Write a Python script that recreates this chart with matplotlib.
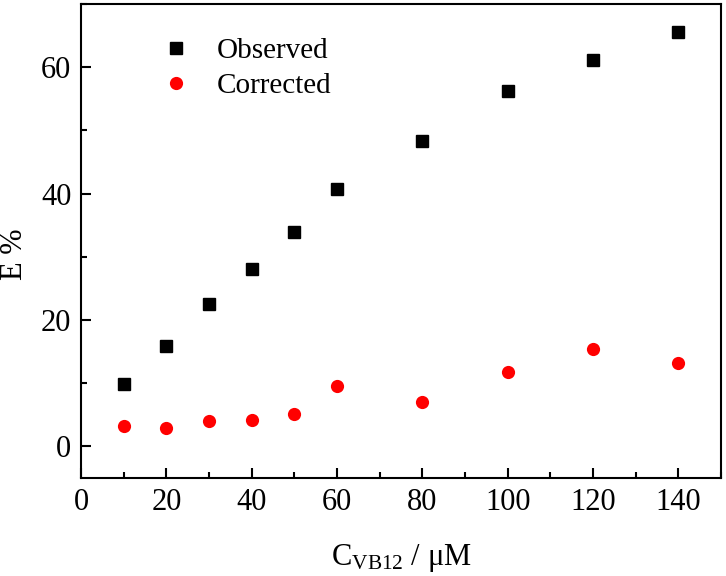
import numpy as np
import matplotlib
matplotlib.use("Agg")
import matplotlib.pyplot as plt
from matplotlib.ticker import MultipleLocator

# concentration of VB12 (uM)
conc = [10, 20, 30, 40, 50, 60, 80, 100, 120, 140]
# E % values
observed = [9.8, 15.9, 22.6, 28.1, 33.9, 40.7, 48.4, 56.2, 61.2, 65.6]
corrected = [3.2, 2.9, 4.0, 4.2, 5.2, 9.6, 7.0, 11.8, 15.4, 13.2]

plt.rcParams['font.family'] = ['Liberation Serif', 'DejaVu Serif']
plt.rcParams['mathtext.fontset'] = 'custom'
plt.rcParams['mathtext.rm'] = 'Liberation Serif'
plt.rcParams['mathtext.it'] = 'Liberation Serif'

fig = plt.figure(figsize=(7.26, 5.76), dpi=100)
ax = fig.add_axes([81/726, 1 - 478/576, 640/726, 474/576])

ax.plot(conc, observed, 's', color='black', markersize=8, label='Observed')
ax.plot(conc, corrected, 'o', color='#ff0000', markersize=9.5, markeredgewidth=0,
        label='Corrected')

ax.set_xlim(0, 150)
ax.set_ylim(-5, 70)
ax.xaxis.set_major_locator(MultipleLocator(20))
ax.xaxis.set_minor_locator(MultipleLocator(10))
ax.yaxis.set_major_locator(MultipleLocator(20))
ax.yaxis.set_minor_locator(MultipleLocator(10))
ax.tick_params(which='both', direction='in', width=1.5, labelsize=22)
ax.tick_params(which='major', length=7, pad=7)
ax.tick_params(which='minor', length=4)
for s in ax.spines.values():
    s.set_linewidth(1.5)

ax.set_xlabel(r'C$_{\mathrm{VB12}}$ / μM', fontsize=22, labelpad=18)
# y label placed by hand so it stays inside the figure
fig.text(14/726, 1 - 254/576, 'E %', fontsize=22, rotation=90,
         ha='center', va='center')

ax.legend(loc='upper left', bbox_to_anchor=(0.108, 0.954), frameon=False, fontsize=21,
          handlelength=1.0, handletextpad=0.9, labelspacing=0.3, borderaxespad=0.0)

fig.savefig('out.png', dpi=100)
